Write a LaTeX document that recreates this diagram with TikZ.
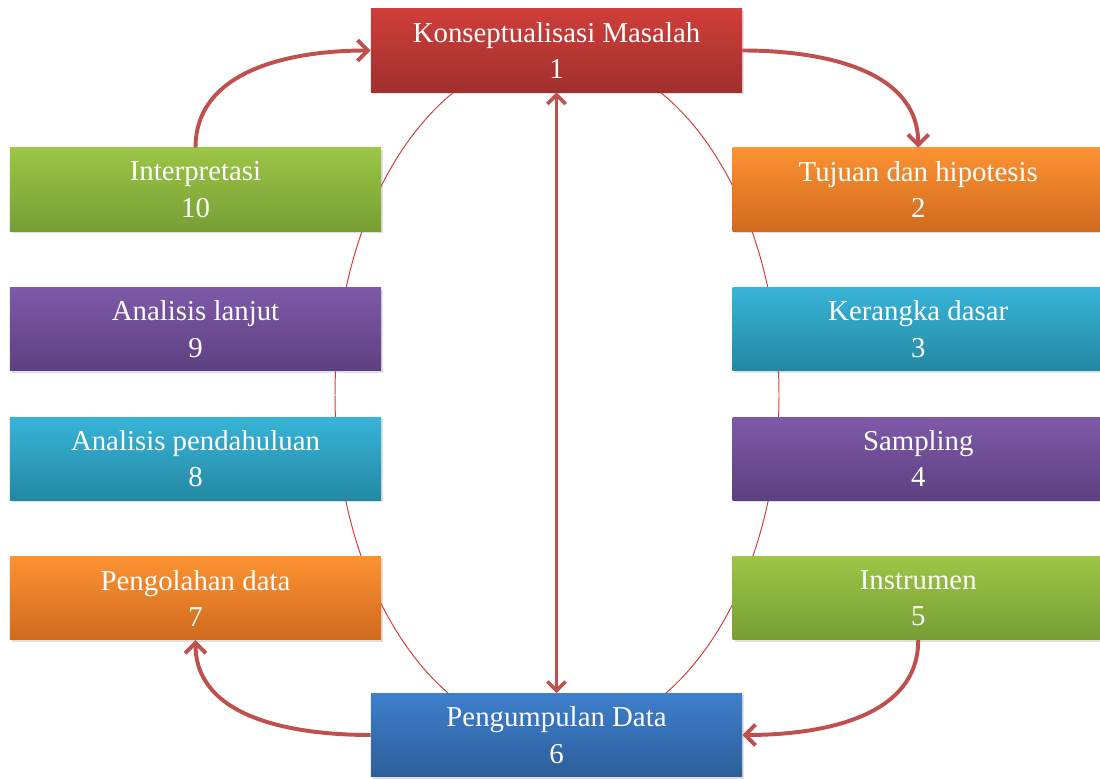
\documentclass[tikz,border=0pt]{standalone}
\usepackage{fontspec}
\setmainfont{Liberation Serif}
\usepackage{tikz}
\usetikzlibrary{positioning, arrows.meta, shadows}
\definecolor{arrowred}{RGB}{192,80,77}
\definecolor{ringred}{RGB}{214,60,60}
\definecolor{redtop}{RGB}{207,62,58}
\definecolor{redbot}{RGB}{160,48,45}
\definecolor{orangetop}{RGB}{252,146,50}
\definecolor{orangebot}{RGB}{208,106,30}
\definecolor{cyantop}{RGB}{56,180,216}
\definecolor{cyanbot}{RGB}{35,136,162}
\definecolor{purpletop}{RGB}{126,89,168}
\definecolor{purplebot}{RGB}{92,64,128}
\definecolor{greentop}{RGB}{157,197,70}
\definecolor{greenbot}{RGB}{119,158,53}
\definecolor{bluetop}{RGB}{61,127,204}
\definecolor{bluebot}{RGB}{46,94,155}
\tikzset{
  stage/.style={
    rectangle, minimum width=9.275cm, minimum height=2.075cm,
    inner sep=0pt, text=white, align=center,
    font=\fontsize{20.5pt}{26pt}\selectfont,
    execute at begin node={\rule{0pt}{0.8cm}},
    drop shadow={opacity=0.25, shadow xshift=0.05cm, shadow yshift=-0.05cm}
  },
  red stage/.style={stage, top color=redtop, bottom color=redbot},
  orange stage/.style={stage, top color=orangetop, bottom color=orangebot},
  cyan stage/.style={stage, top color=cyantop, bottom color=cyanbot},
  purple stage/.style={stage, top color=purpletop, bottom color=purplebot},
  green stage/.style={stage, top color=greentop, bottom color=greenbot},
  blue stage/.style={stage, top color=bluetop, bottom color=bluebot},
  flow/.style={draw=arrowred, line width=2.8pt, -{Straight Barb[length=2.6mm, width=5.2mm]}},
  dual/.style={draw=arrowred, line width=2.5pt, {Straight Barb[length=2.3mm, width=4.6mm]}-{Straight Barb[length=2.3mm, width=4.6mm]}},
  ring/.style={draw=ringred, line width=0.7pt},
}

\begin{document}
\begin{tikzpicture}[x=0.025cm, y=0.025cm]
  \useasboundingbox (0,0) rectangle (1100,778);

  % thin ring behind the boxes
  \draw[ring] (557,383) ellipse [x radius=222, y radius=342];

  \node[red stage] (P1) at (556.5,727.5) {Konseptualisasi Masalah\\1};
  \node[blue stage] (P6) at (556.5,43) {Pengumpulan Data\\6};

  % left column
  \node[green stage] (P10) at (195.5,588.5) {Interpretasi\\10};
  \node[purple stage, below=1.4cm of P10] (P9) {Analisis lanjut\\9};
  \node[cyan stage, below=1.15cm of P9] (P8) {Analisis pendahuluan\\8};
  \node[orange stage, below=1.4cm of P8] (P7) {Pengolahan data\\7};

  % right column
  \node[orange stage, right=8.775cm of P10] (P2) {Tujuan dan hipotesis\\2};
  \node[cyan stage, right=8.775cm of P9] (P3) {Kerangka dasar\\3};
  \node[purple stage, right=8.775cm of P8] (P4) {Sampling\\4};
  \node[green stage, right=8.775cm of P7] (P5) {Instrumen\\5};

  % arrows
  \draw[flow] (P10.north) to[out=90, in=180] (P1.west);
  \draw[flow] (P1.east) to[out=0, in=90] (P2.north);
  \draw[flow] (P5.south) to[out=-90, in=0] (P6.east);
  \draw[flow] (P6.west) to[out=180, in=-90] (P7.south);
  \draw[dual] (P6.north) -- (P1.south);
\end{tikzpicture}
\end{document}
